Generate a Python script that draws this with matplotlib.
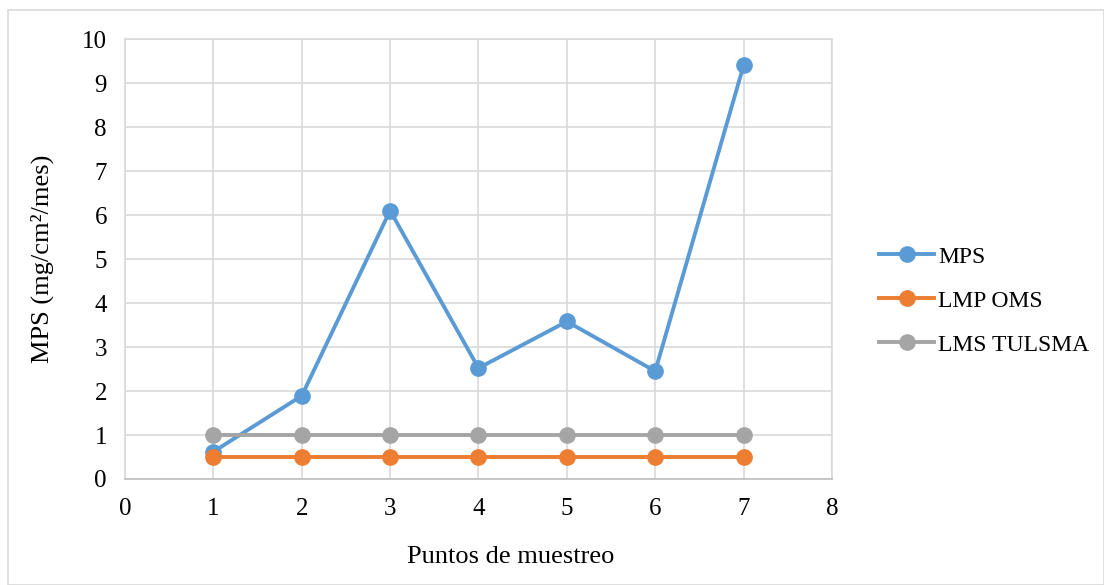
import matplotlib.pyplot as plt
from matplotlib.patches import Rectangle

# Puntos de muestreo y valores medidos
puntos = [1, 2, 3, 4, 5, 6, 7]
mps = [0.62, 1.89, 6.1, 2.52, 3.58, 2.45, 9.4]
lmp_oms = [0.5, 0.5, 0.5, 0.5, 0.5, 0.5, 0.5]
lms_tulsma = [1, 1, 1, 1, 1, 1, 1]

plt.rcParams["font.family"] = ["Liberation Serif", "DejaVu Serif"]

fig = plt.figure(figsize=(11.04, 5.85), dpi=100)
ax = fig.add_axes([0.1132, 0.1812, 0.6404, 0.7521])

# marco exterior del gráfico
fig.patches.append(Rectangle((8 / 1104, 0), 1 - 8 / 1104, 1 - 10 / 585,
                             transform=fig.transFigure, fill=False,
                             edgecolor="#d9d9d9", linewidth=1.2))

estilo = dict(linewidth=2.8, marker="o", markersize=11)
ax.plot(puntos, lms_tulsma, color="#a5a5a5", label="LMS TULSMA", zorder=3, **estilo)
ax.plot(puntos, lmp_oms, color="#ed7d31", label="LMP OMS", zorder=4, **estilo)
ax.plot(puntos, mps, color="#5b9bd5", label="MPS", zorder=2, **estilo)

ax.set_xlim(0, 8)
ax.set_ylim(0, 10)
ax.set_xticks(range(0, 9))
ax.set_yticks(range(0, 11))
ax.grid(True, color="#d9d9d9", linewidth=1.2)
ax.set_axisbelow(True)
for s in ax.spines.values():
    s.set_color("#d9d9d9")
    s.set_linewidth(1.2)
ax.spines["bottom"].set_color("#bfbfbf")
ax.tick_params(length=0, labelsize=18, colors="black")
ax.tick_params(axis="y", pad=13)
ax.tick_params(axis="x", pad=14)

ax.set_xlabel("Puntos de muestreo", fontsize=19)
ax.xaxis.set_label_coords(0.545, -0.152)
ax.set_ylabel("MPS (mg/cm²/mes)", fontsize=19, labelpad=20)

handles, labels = ax.get_legend_handles_labels()
orden = [2, 1, 0]
ax.legend([handles[i] for i in orden], [labels[i] for i in orden],
          loc="center left", bbox_to_anchor=(1.037, 0.405), frameon=False,
          fontsize=17, handlelength=2.3, labelspacing=0.95, handletextpad=0.2)

fig.savefig("out.png", dpi=100)
